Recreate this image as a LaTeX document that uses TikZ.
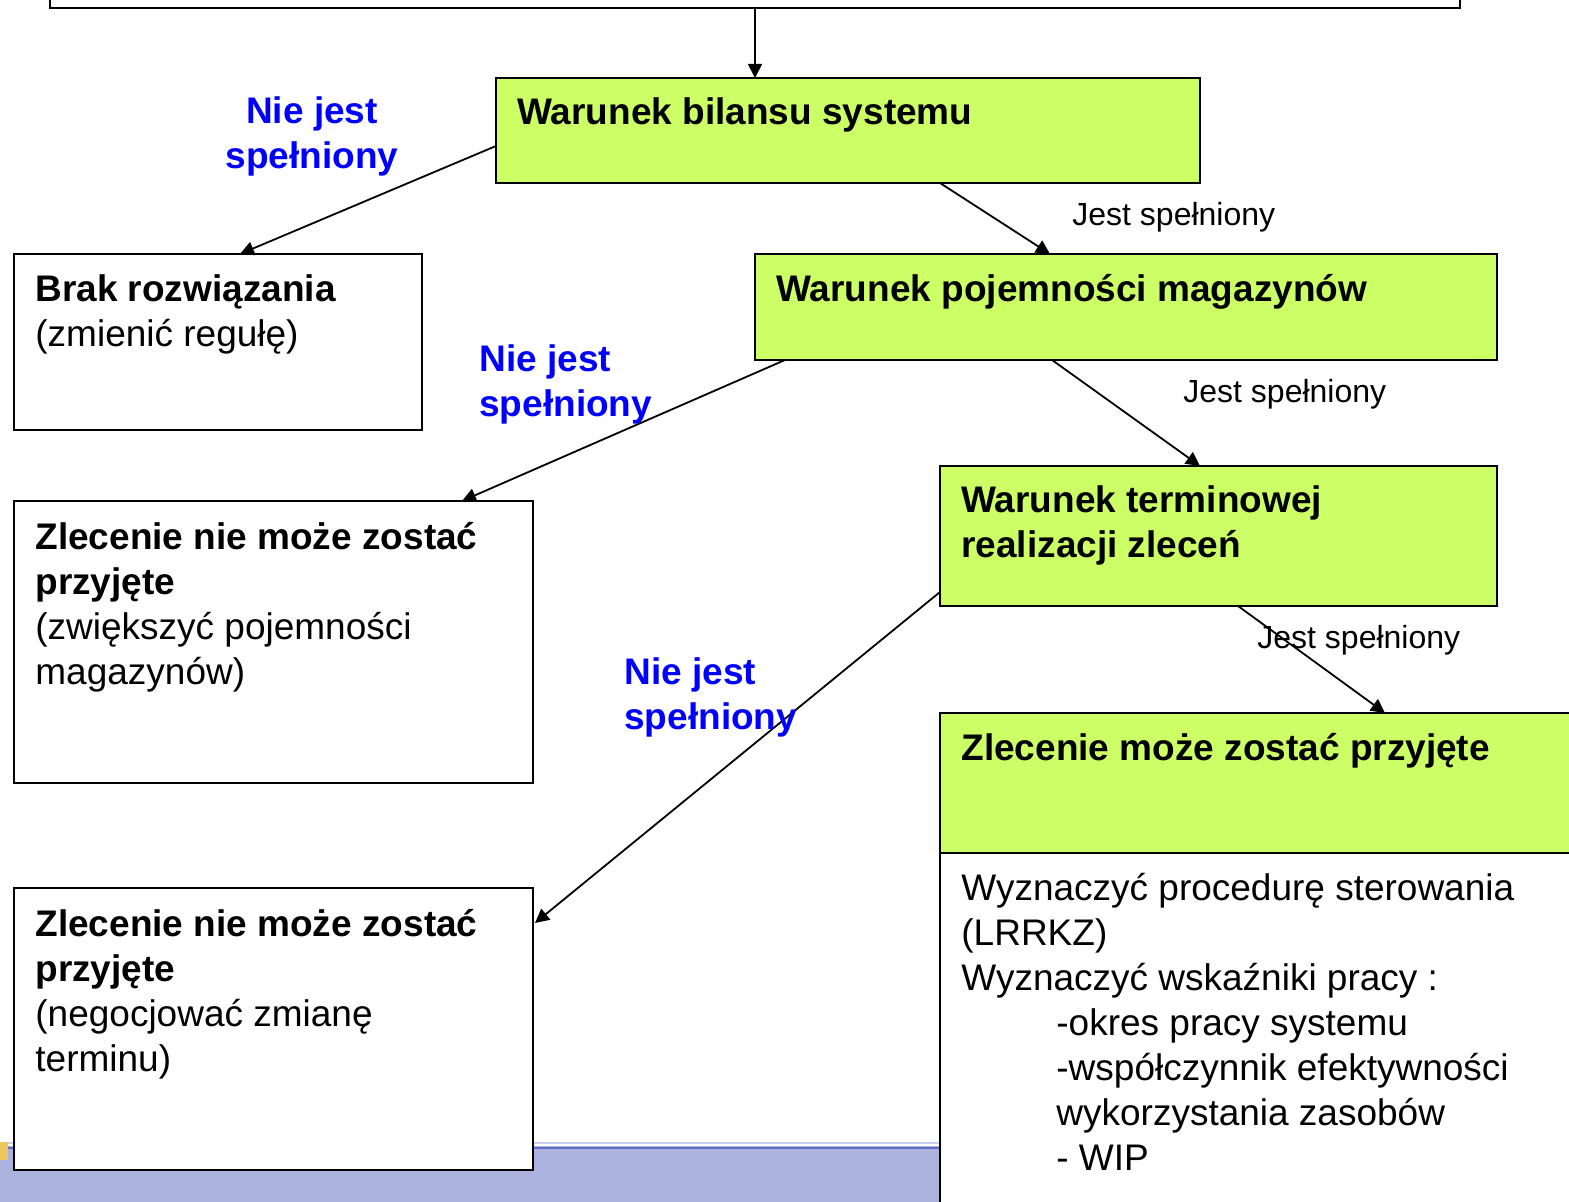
\documentclass[tikz,border=0pt]{standalone}
\usepackage{fontspec}
\setmainfont{Liberation Sans}
\usetikzlibrary{calc,arrows.meta}
\definecolor{boxgreen}{RGB}{204,255,102}
\definecolor{bandblue}{RGB}{170,178,221}
\definecolor{bandline}{RGB}{96,108,196}
\definecolor{bandlight}{RGB}{200,206,240}
\definecolor{cornergold}{RGB}{236,200,90}
\definecolor{labelblue}{RGB}{0,0,255}
\begin{document}
\begin{tikzpicture}[x=0.5pt,y=-0.5pt,
  box/.style={draw=black, line width=1pt, anchor=north west, inner sep=0pt, outer sep=0pt},
  greenbox/.style={box, fill=boxgreen},
  whitebox/.style={box, fill=white},
  txt/.style={anchor=north west, inner sep=0pt, align=left, font=\fontsize{18.5}{22.5}\selectfont},
  nolab/.style={inner sep=0pt, text=labelblue, font=\fontsize{18.5}{22.5}\selectfont\bfseries},
  yeslab/.style={anchor=base west, inner sep=0pt, font=\fontsize{16}{19}\selectfont},
  conn/.style={-{Triangle[length=7pt,width=7pt]}, line width=0.9pt},
]
\useasboundingbox (0,0) rectangle (1569,1202);

% footer band of the slide
\fill[bandblue] (0,1146) rectangle (940,1210);
\draw[bandlight, line width=1pt] (0,1143) -- (940,1143);
\draw[bandline, line width=1.2pt] (0,1148) -- (940,1148);
\fill[cornergold] (0,1142) rectangle (8,1160);

% boxes
\node[whitebox, minimum width=705pt, minimum height=54pt] (top) at (50,-100) {};
\node[greenbox, minimum width=352pt, minimum height=52.5pt] (bil) at (496,78) {};
\node[greenbox, minimum width=371pt, minimum height=53pt] (poj) at (755,254) {};
\node[greenbox, minimum width=278.5pt, minimum height=70pt] (term) at (940,466) {};
\node[greenbox, minimum width=350pt, minimum height=70pt] (ok) at (940,713) {};
\node[whitebox, minimum width=350pt, minimum height=225pt] (okw) at (940,853) {};
\node[whitebox, minimum width=204pt, minimum height=88pt] (brak) at (14,254) {};
\node[whitebox, minimum width=259.5pt, minimum height=141pt] (zn1) at (14,501) {};
\node[whitebox, minimum width=259.5pt, minimum height=141pt] (zn2) at (14,888) {};

% box texts
\node[txt] (tbil) at ($(bil.north west)+(21,15)$) {\strut\textbf{Warunek bilansu systemu}};
\node[txt] (tpoj) at ($(poj.north west)+(21,16)$) {\strut\textbf{Warunek pojemności magazynów}};
\node[txt] (tterm) at ($(term.north west)+(21,15)$) {\strut\textbf{Warunek terminowej}\\\textbf{realizacji zleceń}};
\node[txt] (tok) at ($(ok.north west)+(21,16)$) {\strut\textbf{Zlecenie może zostać przyjęte}};
\node[txt] (tokw) at ($(okw.north west)+(21,16)$) {\strut Wyznaczyć procedurę sterowania\\
(LRRKZ)\\
Wyznaczyć wskaźniki pracy :\\
\hspace*{47.5pt}-okres pracy systemu\\
\hspace*{47.5pt}-współczynnik efektywności\\
\hspace*{47.5pt}wykorzystania zasobów\\
\hspace*{47.5pt}- WIP};
\node[txt] (tbrak) at ($(brak.north west)+(21,16)$) {\strut\textbf{Brak rozwiązania}\\(zmienić regułę)};
\node[txt] (tzn1) at ($(zn1.north west)+(21,17)$) {\strut\textbf{Zlecenie nie może zostać}\\\textbf{przyjęte}\\(zwiększyć pojemności\\magazynów)};
\node[txt] (tzn2) at ($(zn2.north west)+(21,17)$) {\strut\textbf{Zlecenie nie może zostać}\\\textbf{przyjęte}\\(negocjować zmianę\\terminu)};

% connectors
\draw[conn] (top.south) -- (top.south |- bil.north);
\draw[conn] ($(bil.north west)+(0,68)$) -- ($(brak.north west)+(226,0)$);
\draw[conn] ($(bil.south west)+(444,0)$) -- ($(poj.north west)+(295,0)$);
\draw[conn] ($(poj.south west)+(30,0)$) -- ($(zn1.north east)+(-71,0)$);
\draw[conn] ($(poj.south west)+(297,0)$) -- ($(term.north west)+(260,0)$);
\draw[conn] ($(term.south west)+(0,-14)$) -- ($(zn2.north east)+(2,35)$);
\draw[conn] ($(term.south west)+(298,0)$) -- ($(ok.north west)+(445,0)$);

% branch labels
\node[nolab, anchor=north, align=center] (n1) at (312,92) {\strut Nie jest\\spełniony};
\node[nolab, anchor=north west, align=left] (n2) at (479,340) {\strut Nie jest\\spełniony};
\node[nolab, anchor=north west, align=left] (n3) at (624,653) {\strut Nie jest\\spełniony};
\node[yeslab] (y1) at (1072,226) {Jest spełniony};
\node[yeslab] (y2) at (1183,403) {Jest spełniony};
\node[yeslab] (y3) at (1257,649) {Jest spełniony};
\end{tikzpicture}
\end{document}
